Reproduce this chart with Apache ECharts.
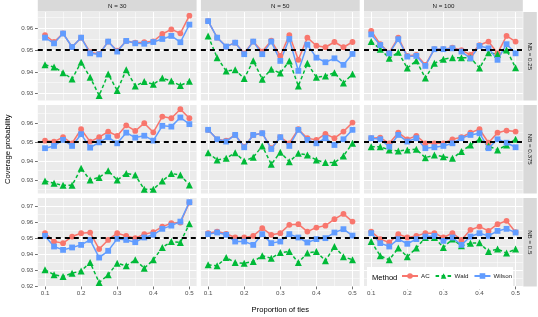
<!DOCTYPE html>
<html><head><meta charset="utf-8">
<script src="https://cdn.jsdelivr.net/npm/echarts@6/dist/echarts.min.js"></script>
<style>html,body{margin:0;padding:0;background:#fff}#c{width:538px;height:317px}</style>
</head><body><div id="c"></div>
<script>
// ---------- data ----------
const props = [0.1,0.125,0.15,0.175,0.2,0.225,0.25,0.275,0.3,0.325,0.35,0.375,0.4,0.425,0.45,0.475,0.5];
const xTicks = [0.1,0.2,0.3,0.4,0.5];
const xMinorTicks = [0.15,0.25,0.35,0.45];
const nLabels = ['N = 30','N = 50','N = 100'];
const nbLabels = ['NB = 0.25','NB = 0.375','NB = 0.5'];
const methods = ['AC','Wald','Wilson'];
const yTicksRow1 = [0.93,0.94,0.95,0.96];
const yTicksRow2 = [0.93,0.94,0.95,0.96];
const yTicksRow3 = [0.92,0.93,0.94,0.95,0.96,0.97];
const refLevel = 0.95;

// NB = 0.25
const ac_n30_nb025 = [0.9569,0.9537,0.9577,0.9514,0.9557,0.9490,0.9482,0.9539,0.9497,0.9542,0.9534,0.9536,0.9540,0.9574,0.9595,0.9577,0.9658];
const wald_n30_nb025 = [0.9432,0.9422,0.9396,0.9367,0.9444,0.9375,0.9291,0.9390,0.9314,0.9409,0.9335,0.9355,0.9343,0.9371,0.9358,0.9337,0.9357];
const wilson_n30_nb025 = [0.9557,0.9531,0.9576,0.9514,0.9557,0.9485,0.9480,0.9539,0.9493,0.9542,0.9531,0.9529,0.9537,0.9551,0.9565,0.9536,0.9617];
const ac_n50_nb025 = [0.9633,0.9557,0.9516,0.9534,0.9485,0.9539,0.9493,0.9543,0.9473,0.9569,0.9455,0.9557,0.9520,0.9513,0.9537,0.9513,0.9537];
const wald_n50_nb025 = [0.9565,0.9465,0.9404,0.9409,0.9369,0.9451,0.9366,0.9412,0.9394,0.9450,0.9335,0.9439,0.9375,0.9381,0.9396,0.9348,0.9390];
const wilson_n50_nb025 = [0.9633,0.9557,0.9516,0.9534,0.9481,0.9539,0.9481,0.9539,0.9450,0.9551,0.9404,0.9525,0.9465,0.9444,0.9462,0.9432,0.9482];
const ac_n100_nb025 = [0.9588,0.9527,0.9488,0.9557,0.9473,0.9478,0.9432,0.9504,0.9504,0.9511,0.9500,0.9478,0.9523,0.9539,0.9485,0.9565,0.9539];
const wald_n100_nb025 = [0.9539,0.9504,0.9462,0.9490,0.9417,0.9451,0.9371,0.9439,0.9458,0.9465,0.9465,0.9465,0.9417,0.9488,0.9481,0.9500,0.9419];
const wilson_n100_nb025 = [0.9572,0.9523,0.9485,0.9550,0.9470,0.9473,0.9427,0.9504,0.9504,0.9508,0.9493,0.9462,0.9519,0.9508,0.9455,0.9527,0.9485];
// NB = 0.375
const ac_n30_nb0375 = [0.9508,0.9503,0.9526,0.9494,0.9568,0.9503,0.9526,0.9556,0.9533,0.9589,0.9559,0.9600,0.9552,0.9635,0.9626,0.9674,0.9626];
const wald_n30_nb0375 = [0.9295,0.9283,0.9272,0.9272,0.9362,0.9300,0.9314,0.9349,0.9300,0.9335,0.9326,0.9251,0.9251,0.9295,0.9335,0.9326,0.9274];
const wilson_n30_nb0375 = [0.9468,0.9480,0.9512,0.9480,0.9542,0.9471,0.9499,0.9526,0.9494,0.9550,0.9524,0.9534,0.9508,0.9586,0.9582,0.9630,0.9595];
const ac_n50_nb0375 = [0.9565,0.9515,0.9508,0.9538,0.9476,0.9538,0.9547,0.9468,0.9526,0.9494,0.9568,0.9521,0.9512,0.9543,0.9521,0.9556,0.9603];
const wald_n50_nb0375 = [0.9444,0.9406,0.9415,0.9444,0.9400,0.9420,0.9480,0.9383,0.9447,0.9397,0.9441,0.9432,0.9406,0.9392,0.9392,0.9427,0.9494];
const wilson_n50_nb0375 = [0.9565,0.9515,0.9503,0.9538,0.9473,0.9538,0.9547,0.9464,0.9526,0.9480,0.9565,0.9512,0.9494,0.9521,0.9485,0.9515,0.9565];
const ac_n100_nb0375 = [0.9521,0.9524,0.9494,0.9550,0.9515,0.9533,0.9494,0.9494,0.9494,0.9515,0.9526,0.9550,0.9568,0.9497,0.9550,0.9561,0.9556];
const wald_n100_nb0375 = [0.9476,0.9476,0.9459,0.9453,0.9459,0.9462,0.9418,0.9432,0.9423,0.9415,0.9450,0.9485,0.9515,0.9480,0.9459,0.9485,0.9515];
const wilson_n100_nb0375 = [0.9521,0.9515,0.9476,0.9538,0.9503,0.9521,0.9468,0.9473,0.9480,0.9494,0.9521,0.9538,0.9547,0.9468,0.9515,0.9497,0.9473];
// NB = 0.5
const ac_n30_nb05 = [0.9531,0.9479,0.9469,0.9510,0.9531,0.9535,0.9432,0.9489,0.9531,0.9514,0.9500,0.9525,0.9537,0.9572,0.9593,0.9597,0.9722];
const wald_n30_nb05 = [0.9303,0.9272,0.9261,0.9282,0.9296,0.9348,0.9224,0.9272,0.9344,0.9328,0.9365,0.9313,0.9365,0.9442,0.9479,0.9473,0.9589];
const wilson_n30_nb05 = [0.9514,0.9448,0.9427,0.9442,0.9458,0.9489,0.9379,0.9421,0.9496,0.9489,0.9475,0.9504,0.9521,0.9558,0.9578,0.9603,0.9724];
const ac_n50_nb05 = [0.9531,0.9541,0.9527,0.9504,0.9504,0.9514,0.9562,0.9521,0.9531,0.9583,0.9587,0.9541,0.9566,0.9578,0.9618,0.9651,0.9603];
const wald_n50_nb05 = [0.9334,0.9328,0.9379,0.9348,0.9344,0.9354,0.9390,0.9375,0.9410,0.9417,0.9348,0.9407,0.9417,0.9359,0.9448,0.9385,0.9365];
const wilson_n50_nb05 = [0.9525,0.9535,0.9521,0.9479,0.9479,0.9458,0.9525,0.9469,0.9479,0.9525,0.9504,0.9473,0.9494,0.9500,0.9535,0.9556,0.9516];
const ac_n100_nb05 = [0.9541,0.9494,0.9473,0.9525,0.9504,0.9514,0.9531,0.9531,0.9504,0.9531,0.9489,0.9552,0.9572,0.9545,0.9587,0.9608,0.9537];
const wald_n100_nb05 = [0.9479,0.9390,0.9365,0.9438,0.9385,0.9438,0.9504,0.9504,0.9442,0.9494,0.9452,0.9469,0.9471,0.9417,0.9432,0.9407,0.9432];
const wilson_n100_nb05 = [0.9531,0.9469,0.9448,0.9494,0.9465,0.9494,0.9510,0.9514,0.9483,0.9504,0.9458,0.9510,0.9531,0.9514,0.9545,0.9558,0.9535];

// ---------- assembly ----------
const panels = [
  [[ac_n30_nb025, wald_n30_nb025, wilson_n30_nb025],[ac_n50_nb025, wald_n50_nb025, wilson_n50_nb025],[ac_n100_nb025, wald_n100_nb025, wilson_n100_nb025]],
  [[ac_n30_nb0375, wald_n30_nb0375, wilson_n30_nb0375],[ac_n50_nb0375, wald_n50_nb0375, wilson_n50_nb0375],[ac_n100_nb0375, wald_n100_nb0375, wilson_n100_nb0375]],
  [[ac_n30_nb05, wald_n30_nb05, wilson_n30_nb05],[ac_n50_nb05, wald_n50_nb05, wilson_n50_nb05],[ac_n100_nb05, wald_n100_nb05, wilson_n100_nb05]]
];
const rowTicks = [yTicksRow1, yTicksRow2, yTicksRow3];

const FONT = 'Liberation Sans, Arial, sans-serif';
const colors = ['#F8766D','#00BA38','#619CFF'];
const symbols = ['circle','triangle','rect'];
const symSizes = [5.8, 7, 5.8];
const colLeft = [37.8, 200.9, 364.0];
const colW = 158.8;
const rowTop = [12, 105, 198];
const rowH = 88.5;
const yRange = [[0.9268, 0.9675],[0.9229, 0.9696],[0.9199, 0.9750]];
const xMin = 0.08, xMax = 0.52;

function halfSteps(ticks, lo, hi){
  const out=[];
  for(let i=0;i<=ticks.length;i++){
    const base = i<ticks.length ? ticks[i] : ticks[ticks.length-1]+0.01;
    const v = +(base-0.005).toFixed(4);
    if(v>lo && v<hi) out.push(v);
  }
  return out;
}

const grids=[], xAxes=[], yAxes=[], series=[], graphics=[];
for(let r=0;r<3;r++){
  for(let c=0;c<3;c++){
    const g = r*3+c;
    grids.push({left:colLeft[c], top:rowTop[r], width:colW, height:rowH, show:true, backgroundColor:'#EBEBEB', borderWidth:0, containLabel:false});
    const [lo,hi] = yRange[r];
    const yMinor = halfSteps(rowTicks[r], lo, hi);
    xAxes.push({gridIndex:g, type:'value', min:xMin, max:xMax, position:'bottom',
      axisLine:{show:false},
      axisTick:{show:r===2, length:2.8, lineStyle:{color:'#333333', width:0.7}, customValues:xTicks},
      axisLabel:{show:r===2, customValues:xTicks, formatter:v=>v.toFixed(1), fontSize:6.2, color:'#4D4D4D', margin:4, fontFamily:FONT},
      splitLine:{show:true, lineStyle:{color:'#FFFFFF', width:1}}});
    xAxes.push({gridIndex:g, type:'value', min:xMin, max:xMax, position:'top',
      axisLine:{show:false}, axisTick:{show:false, customValues:xMinorTicks},
      axisLabel:{show:false, customValues:xMinorTicks},
      splitLine:{show:true, lineStyle:{color:'#FFFFFF', width:0.5}}});
    yAxes.push({gridIndex:g, type:'value', min:lo, max:hi, position:'left',
      axisLine:{show:false},
      axisTick:{show:c===0, length:2.8, lineStyle:{color:'#333333', width:0.7}, customValues:rowTicks[r]},
      axisLabel:{show:c===0, customValues:rowTicks[r], formatter:v=>v.toFixed(2), fontSize:6.2, color:'#4D4D4D', margin:4.5, fontFamily:FONT},
      splitLine:{show:true, lineStyle:{color:'#FFFFFF', width:1}}});
    yAxes.push({gridIndex:g, type:'value', min:lo, max:hi, position:'right',
      axisLine:{show:false}, axisTick:{show:false, customValues:yMinor},
      axisLabel:{show:false, customValues:yMinor},
      splitLine:{show:true, lineStyle:{color:'#FFFFFF', width:0.5}}});
    for(let m=0;m<3;m++){
      const vals = panels[r][c][m];
      const s = {
        name:methods[m], type:'line', xAxisIndex:2*g, yAxisIndex:2*g,
        data: props.map((x,i)=>[x, vals[i]]),
        symbol:symbols[m], symbolSize:symSizes[m], showSymbol:true,
        itemStyle:{color:colors[m]},
        lineStyle:{color:colors[m], width:1.5, type: m===1 ? [3.5,2.5] : 'solid'},
        animation:false, silent:true, z:2
      };
      if(m===2){
        s.markLine = {silent:true, symbol:['none','none'], label:{show:false},
          lineStyle:{color:'#000000', width:1.8, type:[5,4]},
          data:[{yAxis:refLevel}], animation:false};
      }
      series.push(s);
    }
  }
}

for(let c=0;c<3;c++){
  graphics.push({type:'rect', shape:{x:colLeft[c], y:0, width:colW, height:11.5}, style:{fill:'#D9D9D9'}, z:1});
  graphics.push({type:'text', x:colLeft[c]+colW/2, y:6, style:{text:nLabels[c], fill:'#1A1A1A', fontSize:6.2, fontFamily:FONT, align:'center', verticalAlign:'middle'}, z:2});
}
for(let r=0;r<3;r++){
  graphics.push({type:'rect', shape:{x:523.3, y:rowTop[r], width:13.5, height:rowH}, style:{fill:'#D9D9D9'}, z:1});
  graphics.push({type:'text', x:530, y:rowTop[r]+rowH/2, rotation:-Math.PI/2, style:{text:nbLabels[r], fill:'#1A1A1A', fontSize:6.2, fontFamily:FONT, align:'center', verticalAlign:'middle'}, z:2});
}
graphics.push({type:'text', x:8, y:rowTop[0]+(rowTop[2]+rowH-rowTop[0])/2, rotation:Math.PI/2, style:{text:'Coverage probability', fill:'#000000', fontSize:7.6, fontFamily:FONT, align:'center', verticalAlign:'middle'}, z:2});
graphics.push({type:'text', x:colLeft[0]+(colLeft[2]+colW-colLeft[0])/2, y:310, style:{text:'Proportion of ties', fill:'#000000', fontSize:7.6, fontFamily:FONT, align:'center', verticalAlign:'middle'}, z:2});
graphics.push({type:'rect', shape:{x:367, y:267, width:146, height:22}, style:{fill:'#FFFFFF'}, z:3});
graphics.push({type:'text', x:372, y:278, style:{text:'Method', fill:'#000000', fontSize:7.6, fontFamily:FONT, align:'left', verticalAlign:'middle'}, z:5});

const chart = echarts.init(document.getElementById('c'), null, {renderer:'canvas'});
chart.setOption({
  animation:false,
  backgroundColor:'#FFFFFF',
  grid:grids, xAxis:xAxes, yAxis:yAxes, series:series,
  legend:{show:true, data:methods, left:401, top:273, padding:0, itemWidth:16, itemHeight:7, itemGap:5,
    selectedMode:false, textStyle:{fontSize:6.2, color:'#1A1A1A', fontFamily:FONT, padding:[0,0,0,-2]}, z:6},
  graphic:{elements:graphics}
});
</script></body></html>
